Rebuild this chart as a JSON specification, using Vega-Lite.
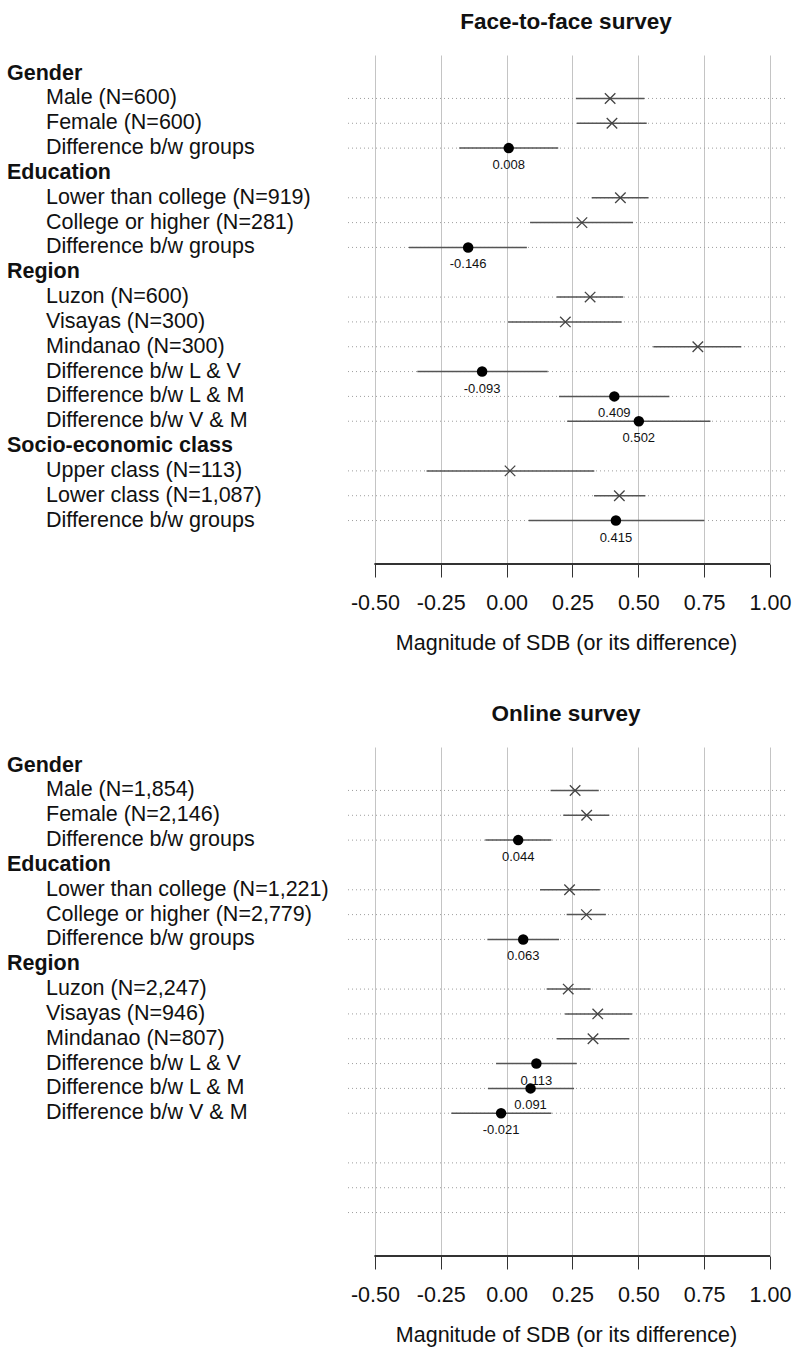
{
  "$schema": "https://vega.github.io/schema/vega-lite/v6.json",
  "padding": {"left": 7, "top": 10, "right": 5, "bottom": 5},
  "background": "white",
  "config": {
    "font": "Liberation Sans",
    "view": {"stroke": null},
    "title": {"fontSize": 22.5, "fontWeight": "bold", "color": "#111", "offset": 22, "anchor": "middle"}
  },
  "datasets": {
    "f2f": [
      {"row": 0, "label": "Gender", "level": "header"},
      {"row": 1, "label": "Male (N=600)", "level": "item", "kind": "group", "est": 0.393, "lo": 0.263, "hi": 0.523},
      {"row": 2, "label": "Female (N=600)", "level": "item", "kind": "group", "est": 0.400, "lo": 0.267, "hi": 0.532},
      {"row": 3, "label": "Difference b/w groups", "level": "item", "kind": "diff", "est": 0.008, "lo": -0.180, "hi": 0.196, "lab": "0.008"},
      {"row": 4, "label": "Education", "level": "header"},
      {"row": 5, "label": "Lower than college (N=919)", "level": "item", "kind": "group", "est": 0.432, "lo": 0.323, "hi": 0.538},
      {"row": 6, "label": "College or higher (N=281)", "level": "item", "kind": "group", "est": 0.286, "lo": 0.089, "hi": 0.480},
      {"row": 7, "label": "Difference b/w groups", "level": "item", "kind": "diff", "est": -0.146, "lo": -0.371, "hi": 0.077, "lab": "-0.146"},
      {"row": 8, "label": "Region", "level": "header"},
      {"row": 9, "label": "Luzon (N=600)", "level": "item", "kind": "group", "est": 0.317, "lo": 0.190, "hi": 0.443},
      {"row": 10, "label": "Visayas (N=300)", "level": "item", "kind": "group", "est": 0.223, "lo": 0.006, "hi": 0.437},
      {"row": 11, "label": "Mindanao (N=300)", "level": "item", "kind": "group", "est": 0.726, "lo": 0.557, "hi": 0.891},
      {"row": 12, "label": "Difference b/w L & V", "level": "item", "kind": "diff", "est": -0.093, "lo": -0.339, "hi": 0.156, "lab": "-0.093"},
      {"row": 13, "label": "Difference b/w L & M", "level": "item", "kind": "diff", "est": 0.409, "lo": 0.199, "hi": 0.618, "lab": "0.409"},
      {"row": 14, "label": "Difference b/w V & M", "level": "item", "kind": "diff", "est": 0.502, "lo": 0.230, "hi": 0.774, "lab": "0.502"},
      {"row": 15, "label": "Socio-economic class", "level": "header"},
      {"row": 16, "label": "Upper class (N=113)", "level": "item", "kind": "group", "est": 0.013, "lo": -0.304, "hi": 0.333},
      {"row": 17, "label": "Lower class (N=1,087)", "level": "item", "kind": "group", "est": 0.428, "lo": 0.332, "hi": 0.527},
      {"row": 18, "label": "Difference b/w groups", "level": "item", "kind": "diff", "est": 0.415, "lo": 0.084, "hi": 0.750, "lab": "0.415"}
    ],
    "online": [
      {"row": 0, "label": "Gender", "level": "header"},
      {"row": 1, "label": "Male (N=1,854)", "level": "item", "kind": "group", "est": 0.260, "lo": 0.167, "hi": 0.350},
      {"row": 2, "label": "Female (N=2,146)", "level": "item", "kind": "group", "est": 0.304, "lo": 0.215, "hi": 0.390},
      {"row": 3, "label": "Difference b/w groups", "level": "item", "kind": "diff", "est": 0.044, "lo": -0.081, "hi": 0.170, "lab": "0.044"},
      {"row": 4, "label": "Education", "level": "header"},
      {"row": 5, "label": "Lower than college (N=1,221)", "level": "item", "kind": "group", "est": 0.239, "lo": 0.127, "hi": 0.354},
      {"row": 6, "label": "College or higher (N=2,779)", "level": "item", "kind": "group", "est": 0.303, "lo": 0.228, "hi": 0.377},
      {"row": 7, "label": "Difference b/w groups", "level": "item", "kind": "diff", "est": 0.063, "lo": -0.073, "hi": 0.199, "lab": "0.063"},
      {"row": 8, "label": "Region", "level": "header"},
      {"row": 9, "label": "Luzon (N=2,247)", "level": "item", "kind": "group", "est": 0.234, "lo": 0.152, "hi": 0.319},
      {"row": 10, "label": "Visayas (N=946)", "level": "item", "kind": "group", "est": 0.346, "lo": 0.222, "hi": 0.476},
      {"row": 11, "label": "Mindanao (N=807)", "level": "item", "kind": "group", "est": 0.328, "lo": 0.191, "hi": 0.466},
      {"row": 12, "label": "Difference b/w L & V", "level": "item", "kind": "diff", "est": 0.113, "lo": -0.040, "hi": 0.266, "lab": "0.113"},
      {"row": 13, "label": "Difference b/w L & M", "level": "item", "kind": "diff", "est": 0.091, "lo": -0.071, "hi": 0.256, "lab": "0.091"},
      {"row": 14, "label": "Difference b/w V & M", "level": "item", "kind": "diff", "est": -0.021, "lo": -0.210, "hi": 0.170, "lab": "-0.021"},
      {"row": 16, "label": "", "level": "item"},
      {"row": 17, "label": "", "level": "item"},
      {"row": 18, "label": "", "level": "item"}
    ]
  },
  "spacing": 48,
  "vconcat": [
    {
      "title": "Face-to-face survey",
      "width": 438,
      "height": 509,
      "data": {"name": "f2f"},
      "resolve": {"scale": {"x": "independent"}, "axis": {"x": "independent"}},
      "layer": [
        {
          "transform": [{"filter": "datum.level === 'header'"}],
          "mark": {"type": "text", "align": "left", "baseline": "middle", "fontSize": 21.5, "fontWeight": "bold", "color": "#111"},
          "encoding": {
            "x": {"field": "level", "type": "nominal", "scale": {"type": "point", "domain": ["header", "item"], "range": [-340, -301], "padding": 0}, "axis": null},
            "y": {"field": "row", "type": "quantitative", "scale": {"domain": [-0.75, 19.75], "reverse": true, "nice": false, "zero": false}, "axis": null},
            "text": {"field": "label"}
          }
        },
        {
          "transform": [{"filter": "datum.level === 'item'"}],
          "mark": {"type": "text", "align": "left", "baseline": "middle", "fontSize": 21.5, "fontWeight": "normal", "color": "#111"},
          "encoding": {
            "x": {"field": "level", "type": "nominal", "scale": {"type": "point", "domain": ["header", "item"], "range": [-340, -301], "padding": 0}, "axis": null},
            "y": {"field": "row", "type": "quantitative", "scale": {"domain": [-0.75, 19.75], "reverse": true, "nice": false, "zero": false}, "axis": null},
            "text": {"field": "label"}
          }
        },
        {
          "layer": [
            {
              "transform": [{"filter": "datum.level === 'item'"}],
              "mark": {"type": "rule", "color": "#9e9e9e", "strokeDash": [1, 3], "strokeWidth": 1},
              "encoding": {
                "y": {"field": "row", "type": "quantitative", "scale": {"domain": [-0.75, 19.75], "reverse": true, "nice": false, "zero": false}, "axis": null}
              }
            },
            {
              "transform": [{"filter": "isValid(datum.est)"}],
              "mark": {"type": "rule", "color": "#555", "strokeWidth": 1.5},
              "encoding": {
                "x": {"field": "lo", "type": "quantitative",
                  "scale": {"domain": [-0.606, 1.057], "nice": false, "zero": false},
                  "axis": {"values": [-0.5, -0.25, 0, 0.25, 0.5, 0.75, 1.0], "labelExpr": "replace(format(datum.value, '.2f'), '\u2212', '-')", "grid": true, "gridColor": "#c4c4c4", "gridWidth": 1, "domain": false, "tickSize": 13, "tickColor": "#333", "tickWidth": 1, "labelFontSize": 21.5, "labelColor": "#111", "labelPadding": 15, "title": "Magnitude of SDB (or its difference)", "titleFontSize": 21.5, "titleFontWeight": "normal", "titleColor": "#111", "titlePadding": 19}},
                "x2": {"field": "hi"},
                "y": {"field": "row", "type": "quantitative"}
              }
            },
            {
              "mark": {"type": "rule", "color": "#333", "strokeWidth": 1},
              "encoding": {
                "x": {"datum": -0.5, "type": "quantitative"},
                "x2": {"datum": 1.0},
                "y": {"datum": 19.75, "type": "quantitative"}
              }
            },
            {
              "transform": [{"filter": "datum.kind === 'group'"}],
              "mark": {"type": "point", "shape": "M-1,-1L1,1M-1,1L1,-1", "filled": false, "size": 110, "stroke": "#444", "strokeWidth": 1.3, "opacity": 1},
              "encoding": {
                "x": {"field": "est", "type": "quantitative"},
                "y": {"field": "row", "type": "quantitative"}
              }
            },
            {
              "transform": [{"filter": "datum.kind === 'diff'"}],
              "mark": {"type": "circle", "size": 110, "color": "#000", "opacity": 1},
              "encoding": {
                "x": {"field": "est", "type": "quantitative"},
                "y": {"field": "row", "type": "quantitative"}
              }
            },
            {
              "transform": [{"filter": "datum.kind === 'diff'"}],
              "mark": {"type": "text", "fontSize": 13, "color": "#111", "baseline": "middle", "align": "center", "dy": 17},
              "encoding": {
                "x": {"field": "est", "type": "quantitative"},
                "y": {"field": "row", "type": "quantitative"},
                "text": {"field": "lab"}
              }
            }
          ]
        }
      ]
    },
    {
      "title": "Online survey",
      "width": 438,
      "height": 509,
      "data": {"name": "online"},
      "resolve": {"scale": {"x": "independent"}, "axis": {"x": "independent"}},
      "layer": [
        {
          "transform": [{"filter": "datum.level === 'header'"}],
          "mark": {"type": "text", "align": "left", "baseline": "middle", "fontSize": 21.5, "fontWeight": "bold", "color": "#111"},
          "encoding": {
            "x": {"field": "level", "type": "nominal", "scale": {"type": "point", "domain": ["header", "item"], "range": [-340, -301], "padding": 0}, "axis": null},
            "y": {"field": "row", "type": "quantitative", "scale": {"domain": [-0.75, 19.75], "reverse": true, "nice": false, "zero": false}, "axis": null},
            "text": {"field": "label"}
          }
        },
        {
          "transform": [{"filter": "datum.level === 'item'"}],
          "mark": {"type": "text", "align": "left", "baseline": "middle", "fontSize": 21.5, "fontWeight": "normal", "color": "#111"},
          "encoding": {
            "x": {"field": "level", "type": "nominal", "scale": {"type": "point", "domain": ["header", "item"], "range": [-340, -301], "padding": 0}, "axis": null},
            "y": {"field": "row", "type": "quantitative", "scale": {"domain": [-0.75, 19.75], "reverse": true, "nice": false, "zero": false}, "axis": null},
            "text": {"field": "label"}
          }
        },
        {
          "layer": [
            {
              "transform": [{"filter": "datum.level === 'item'"}],
              "mark": {"type": "rule", "color": "#9e9e9e", "strokeDash": [1, 3], "strokeWidth": 1},
              "encoding": {
                "y": {"field": "row", "type": "quantitative", "scale": {"domain": [-0.75, 19.75], "reverse": true, "nice": false, "zero": false}, "axis": null}
              }
            },
            {
              "transform": [{"filter": "isValid(datum.est)"}],
              "mark": {"type": "rule", "color": "#555", "strokeWidth": 1.5},
              "encoding": {
                "x": {"field": "lo", "type": "quantitative",
                  "scale": {"domain": [-0.606, 1.057], "nice": false, "zero": false},
                  "axis": {"values": [-0.5, -0.25, 0, 0.25, 0.5, 0.75, 1.0], "labelExpr": "replace(format(datum.value, '.2f'), '\u2212', '-')", "grid": true, "gridColor": "#c4c4c4", "gridWidth": 1, "domain": false, "tickSize": 13, "tickColor": "#333", "tickWidth": 1, "labelFontSize": 21.5, "labelColor": "#111", "labelPadding": 15, "title": "Magnitude of SDB (or its difference)", "titleFontSize": 21.5, "titleFontWeight": "normal", "titleColor": "#111", "titlePadding": 19}},
                "x2": {"field": "hi"},
                "y": {"field": "row", "type": "quantitative"}
              }
            },
            {
              "mark": {"type": "rule", "color": "#333", "strokeWidth": 1},
              "encoding": {
                "x": {"datum": -0.5, "type": "quantitative"},
                "x2": {"datum": 1.0},
                "y": {"datum": 19.75, "type": "quantitative"}
              }
            },
            {
              "transform": [{"filter": "datum.kind === 'group'"}],
              "mark": {"type": "point", "shape": "M-1,-1L1,1M-1,1L1,-1", "filled": false, "size": 110, "stroke": "#444", "strokeWidth": 1.3, "opacity": 1},
              "encoding": {
                "x": {"field": "est", "type": "quantitative"},
                "y": {"field": "row", "type": "quantitative"}
              }
            },
            {
              "transform": [{"filter": "datum.kind === 'diff'"}],
              "mark": {"type": "circle", "size": 110, "color": "#000", "opacity": 1},
              "encoding": {
                "x": {"field": "est", "type": "quantitative"},
                "y": {"field": "row", "type": "quantitative"}
              }
            },
            {
              "transform": [{"filter": "datum.kind === 'diff'"}],
              "mark": {"type": "text", "fontSize": 13, "color": "#111", "baseline": "middle", "align": "center", "dy": 17},
              "encoding": {
                "x": {"field": "est", "type": "quantitative"},
                "y": {"field": "row", "type": "quantitative"},
                "text": {"field": "lab"}
              }
            }
          ]
        }
      ]
    }
  ]
}
